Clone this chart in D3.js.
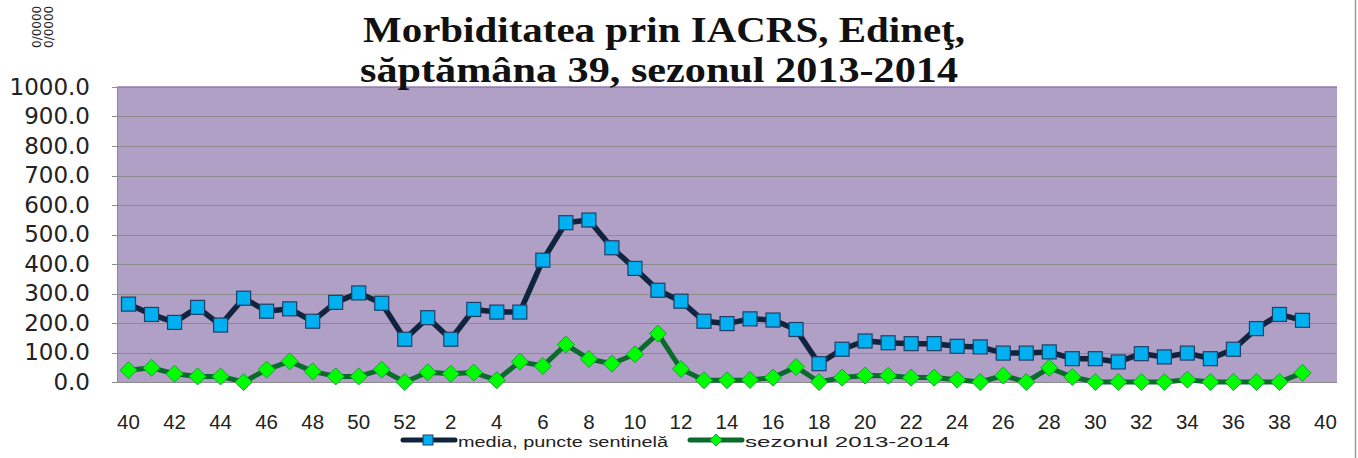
<!DOCTYPE html>
<html><head><meta charset="utf-8">
<script src="https://cdn.jsdelivr.net/npm/d3@7"></script>
<style>body{margin:0;background:#fff}svg{display:block}</style>
</head><body>
<svg id="c" width="1358" height="458"></svg>
<script>
const weeks = [40,41,42,43,44,45,46,47,48,49,50,51,52,1,2,3,4,5,6,7,8,9,10,11,12,13,14,15,16,17,18,19,20,21,22,23,24,25,26,27,28,29,30,31,32,33,34,35,36,37,38,39,40];
const mediaValues = [264,229,202,253,193,284,240,248,206,270,302,267,145,218,145,246,237,237,413,540,549,455,385,311,274,206,198,214,210,178,62,111,139,133,130,130,121,119,98,98,102,79,79,68,96,85,98,79,111,181,229,209,null];
const sezonValues = [40,48,28,19,19,0,42,70,36,19,19,42,0,33,28,32,6,69,54,127,78,62,94,164,44,6,6,7,15,51,0,15,22,21,15,15,8,0,22,0,48,17,0,0,0,0,8,0,0,0,0,31,null];
const yTicks = [0,100,200,300,400,500,600,700,800,900,1000];
const seriesNames = ["media, puncte sentinelă","sezonul 2013-2014"];
const titleLines = ["Morbiditatea prin IACRS, Edineţ,","săptămâna 39, sezonul 2013-2014"];

const svg = d3.select("#c");
const L = 117, R = 1337, T = 87, B = 382;
const x = d3.scaleBand().domain(d3.range(weeks.length)).range([L, R]);
const y = d3.scaleLinear().domain([0, 1000]).range([B, T]);
const cx = i => x(i) + x.bandwidth() / 2;

// plot background
svg.append("rect").attr("x", L).attr("y", T - 1).attr("width", R - L).attr("height", B - T + 1).attr("fill", "#b1a0c6");
// right frame line
svg.append("line").attr("x1", 1355.5).attr("x2", 1355.5).attr("y1", 0).attr("y2", 458).attr("stroke", "#9a9a9a").attr("stroke-width", 1.5);

// gridlines
svg.append("g").selectAll("line").data(yTicks).join("line")
  .attr("x1", L - 5).attr("x2", R).attr("y1", d => Math.round(y(d)) + 0.5).attr("y2", d => Math.round(y(d)) + 0.5)
  .attr("stroke", "#8c8c8c").attr("stroke-width", 1.2);
svg.append("line").attr("x1", L + 0.5).attr("x2", L + 0.5).attr("y1", T).attr("y2", B).attr("stroke", "#8c8c8c");

// y axis labels
const yAxis = d3.axisLeft(y).tickValues(yTicks).tickFormat(d3.format(".1f")).tickSize(0).tickPadding(0);
const gy = svg.append("g").attr("transform", `translate(${L - 27},0)`).call(yAxis);
gy.select(".domain").remove();
gy.selectAll("text").attr("font-family", "DejaVu Sans, Verdana, sans-serif").attr("font-size", 23).attr("fill", "#222");

// x axis labels
const xAxis = d3.axisBottom(x).tickValues(d3.range(0, weeks.length, 2)).tickFormat(i => weeks[i]).tickSize(0).tickPadding(0);
const gx = svg.append("g").attr("transform", `translate(0,${B})`).call(xAxis);
gx.select(".domain").remove();
gx.selectAll("text").attr("dy", null).attr("y", 47).attr("font-family", "Liberation Sans, Arial, sans-serif").attr("font-size", 20.5).attr("fill", "#222");

// lines
const line = d3.line().defined(d => d[1] != null).x(d => cx(d[0])).y(d => y(d[1]));
const mediaPts = mediaValues.map((v, i) => [i, v]);
const sezonPts = sezonValues.map((v, i) => [i, v]);

svg.append("path").datum(sezonPts).attr("d", line).attr("fill", "none").attr("stroke", "#0b6b2c").attr("stroke-width", 5).attr("stroke-linejoin", "round");
svg.append("path").datum(mediaPts).attr("d", line).attr("fill", "none").attr("stroke", "#10243e").attr("stroke-width", 5.5).attr("stroke-linejoin", "round");

const diamond = (px, py, r) => `M${px},${py - r}L${px + r},${py}L${px},${py + r}L${px - r},${py}Z`;
svg.append("g").selectAll("path").data(sezonPts.filter(d => d[1] != null)).join("path")
  .attr("d", d => diamond(cx(d[0]), y(d[1]), 8.5)).attr("fill", "#00ff00").attr("stroke", "#18a038").attr("stroke-width", 1);
svg.append("g").selectAll("rect").data(mediaPts.filter(d => d[1] != null)).join("rect")
  .attr("x", d => cx(d[0]) - 7).attr("y", d => y(d[1]) - 7).attr("width", 14).attr("height", 14)
  .attr("fill", "#00b0f0").attr("stroke", "#1f3f66").attr("stroke-width", 1.2);

// title
const title = svg.append("g").attr("font-family", "Liberation Serif, Times New Roman, serif").attr("font-weight", "bold")
  .attr("font-size", 36).attr("fill", "#111");
title.append("text").attr("x", 363).attr("y", 42).attr("textLength", 602).attr("lengthAdjust", "spacingAndGlyphs").text(titleLines[0]);
title.append("text").attr("x", 360).attr("y", 82).attr("textLength", 598).attr("lengthAdjust", "spacingAndGlyphs").text(titleLines[1]);

// y unit label
const ul = svg.append("g").attr("font-family", "DejaVu Sans, sans-serif").attr("font-size", 12).attr("fill", "#222");
ul.append("text").attr("transform", "translate(41,48) rotate(-90)").text("0/0000");
ul.append("text").attr("transform", "translate(53,48) rotate(-90)").text("0/0000");

// legend
const lg = svg.append("g").attr("font-family", "Liberation Sans, Arial, sans-serif").attr("font-size", 14).attr("fill", "#222");
lg.append("line").attr("x1", 403).attr("x2", 455).attr("y1", 440).attr("y2", 440).attr("stroke", "#10243e").attr("stroke-width", 5).attr("stroke-linecap", "round");
lg.append("rect").attr("x", 423).attr("y", 435).attr("width", 10).attr("height", 10).attr("fill", "#00b0f0").attr("stroke", "#1f3f66");
lg.append("text").attr("x", 458).attr("y", 447).attr("textLength", 210).attr("lengthAdjust", "spacingAndGlyphs").text(seriesNames[0]);
lg.append("line").attr("x1", 690).attr("x2", 742).attr("y1", 440).attr("y2", 440).attr("stroke", "#0b6b2c").attr("stroke-width", 5).attr("stroke-linecap", "round");
lg.append("path").attr("d", diamond(716, 440, 6)).attr("fill", "#00ff00").attr("stroke", "#18a038");
lg.append("text").attr("x", 745).attr("y", 447).attr("textLength", 205).attr("lengthAdjust", "spacingAndGlyphs").text(seriesNames[1]);
</script>
</body></html>
